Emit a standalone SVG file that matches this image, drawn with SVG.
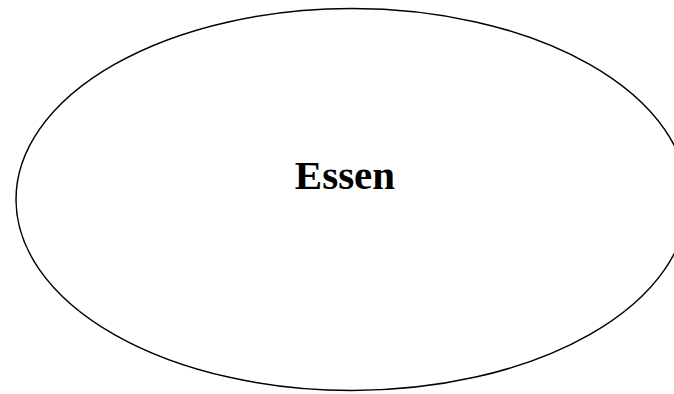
<svg xmlns="http://www.w3.org/2000/svg" width="674" height="394" viewBox="0 0 674 394">
<style>
.shape{fill:#fff;stroke:#000;stroke-width:1.5}
.lbl{font-family:"Liberation Serif","Times New Roman",serif;font-weight:bold;font-size:41px;fill:#000;text-anchor:middle}
</style>
<rect width="674" height="394" fill="#fff"/>
<g id="essen">
<ellipse class="shape" cx="352" cy="199.5" rx="336" ry="191"/>
<text class="lbl" x="345" y="189">Essen</text>
</g>
</svg>
